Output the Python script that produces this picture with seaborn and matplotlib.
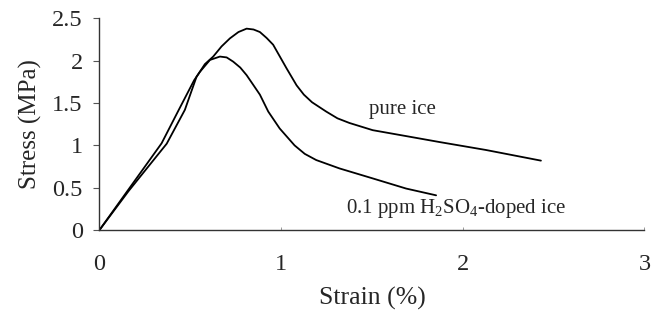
import matplotlib
matplotlib.use("Agg")
import matplotlib.pyplot as plt
import seaborn as sns
import pandas as pd

# Data
pure_strain = [0, 0.16, 0.37, 0.47, 0.534, 0.58, 0.626, 0.672, 0.718, 0.765, 0.810,
               0.848, 0.883, 0.92, 0.956, 1.03, 1.085, 1.125, 1.17, 1.248, 1.31, 1.376,
               1.504, 1.688, 1.871, 2.127, 2.43]
pure_stress = [0, 0.46, 1.02, 1.42, 1.81, 1.96, 2.05, 2.17, 2.265, 2.34, 2.38,
               2.37, 2.34, 2.27, 2.19, 1.91, 1.71, 1.60, 1.51, 1.40, 1.32, 1.265,
               1.18, 1.11, 1.04, 0.946, 0.82]

doped_strain = [0, 0.16, 0.342, 0.436, 0.521, 0.553, 0.608, 0.663, 0.70, 0.736, 0.775,
                0.81, 0.845, 0.883, 0.929, 0.992, 1.074, 1.13, 1.193, 1.321, 1.504,
                1.688, 1.853]
doped_stress = [0, 0.48, 1.025, 1.418, 1.77, 1.87, 2.01, 2.05, 2.04, 1.99, 1.92,
                1.83, 1.72, 1.60, 1.40, 1.20, 1.0, 0.90, 0.827, 0.728, 0.61,
                0.49, 0.41]

x_ticks = [0, 1, 2, 3]
y_ticks = [0, 0.5, 1, 1.5, 2, 2.5]
y_tick_labels = ["0", "0.5", "1", "1.5", "2", "2.5"]

sns.set_style("white")
plt.rcParams["font.family"] = ["Liberation Serif", "DejaVu Serif"]
plt.rcParams["mathtext.fontset"] = "custom"
plt.rcParams["mathtext.rm"] = "Liberation Serif"
plt.rcParams["mathtext.it"] = "Liberation Serif:italic"

df = pd.concat([
    pd.DataFrame({"strain": pure_strain, "stress": pure_stress, "series": "pure"}),
    pd.DataFrame({"strain": doped_strain, "stress": doped_stress, "series": "doped"}),
])

fig = plt.figure(figsize=(6.61, 3.15), dpi=100)
ax = fig.add_axes([0.1505, 0.2698, 0.975 - 0.1505, 0.9413 - 0.2698])
sns.lineplot(data=df, x="strain", y="stress", units="series", estimator=None,
             sort=False, color="black", linewidth=1.3, ax=ax)

ax.set_xlim(0, 3)
ax.set_ylim(0, 2.5)
ax.set_xticks(x_ticks)
ax.set_xticklabels([str(t) for t in x_ticks])
ax.set_yticks(y_ticks)
ax.set_yticklabels(y_tick_labels)

for s in ["top", "right"]:
    ax.spines[s].set_visible(False)
for s in ["left", "bottom"]:
    ax.spines[s].set_color("#333333")
    ax.spines[s].set_linewidth(1.0)

ax.tick_params(axis="y", direction="out", length=4, width=0.8, color="#555555",
               labelsize=17.5, pad=8, left=True)
ax.tick_params(axis="x", direction="in", length=2, width=0.6, color="#888888",
               labelsize=17.5, pad=17, bottom=True)

ax.set_xlabel("Strain (%)", fontsize=18.5, labelpad=9)
ax.set_ylabel("Stress (MPa)", fontsize=18, labelpad=7)

ax.text(1.667, 1.42, "pure ice", fontsize=15, ha="center", va="center")
ax.text(1.964, 0.26, "0.1 ppm H$_2$SO$_4$-doped ice", fontsize=15, ha="center", va="center")

fig.savefig("out.png", dpi=100)
